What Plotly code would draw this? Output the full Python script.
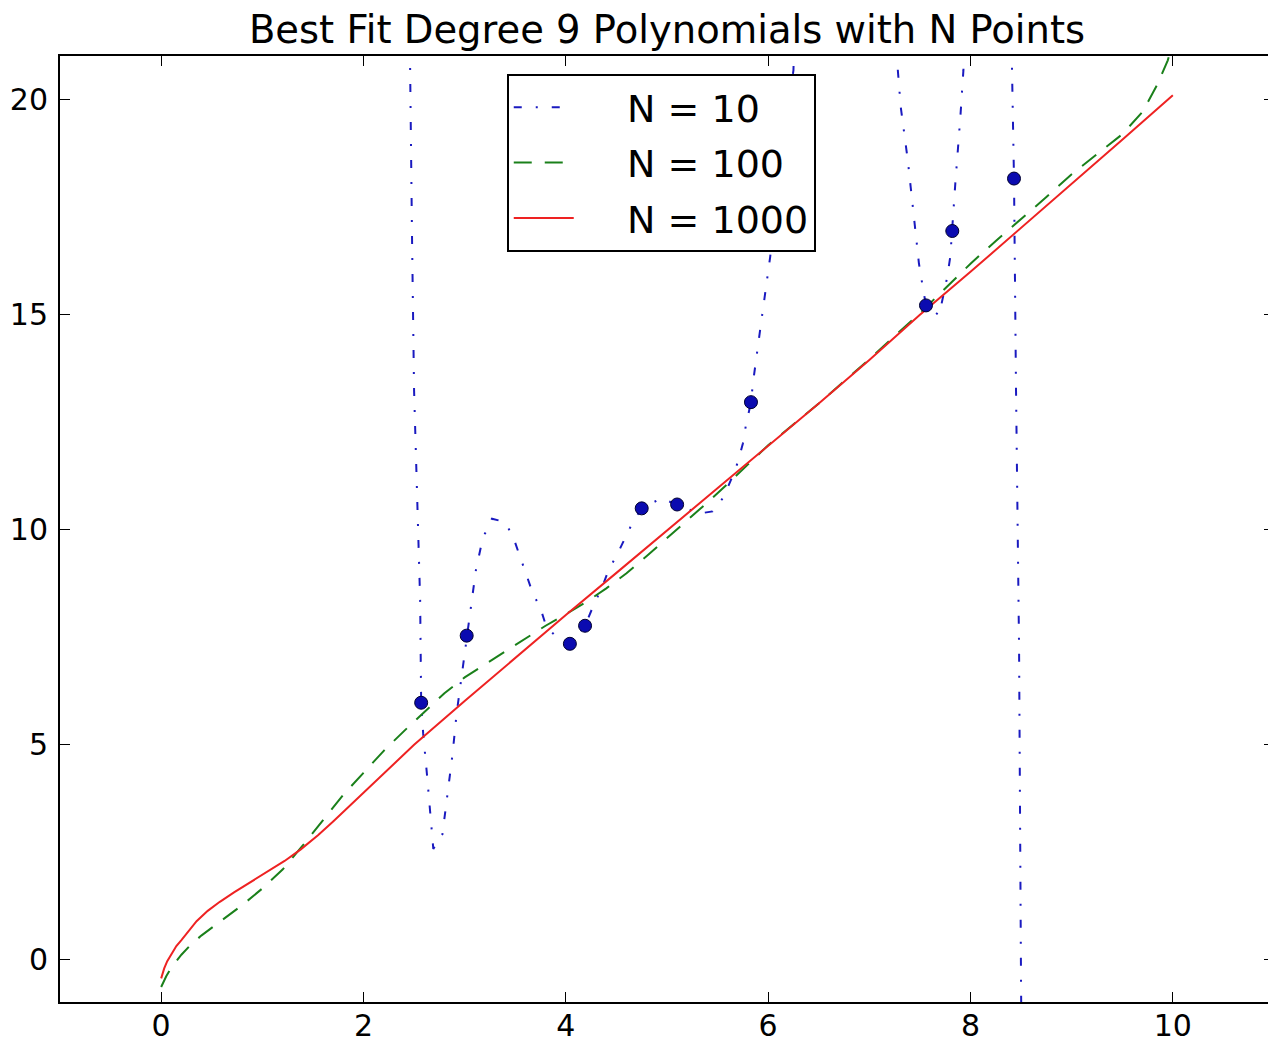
import plotly.graph_objects as go

# ---- data ----
sample_x = [2.57, 3.02, 4.04, 4.19, 4.75, 5.10, 5.83, 7.56, 7.82, 8.43]
sample_y = [5.96, 7.52, 7.33, 7.75, 10.48, 10.57, 12.95, 15.20, 16.93, 18.15]

n10_x = [2.45, 2.46, 2.48, 2.50, 2.53, 2.56, 2.57, 2.59, 2.63, 2.66, 2.69, 2.78, 2.83, 2.88,
         2.92, 2.97, 3.02, 3.06, 3.11, 3.16, 3.20, 3.27, 3.40, 3.48, 3.55, 3.67, 3.75, 3.81,
         3.95, 4.04, 4.19, 4.28, 4.36, 4.42, 4.51, 4.59, 4.67, 4.75, 4.94, 5.10, 5.32, 5.45,
         5.56, 5.63, 5.70, 5.75, 5.78, 5.83, 5.85, 5.92, 6.02, 6.12, 6.25, 6.27,
         7.26, 7.28, 7.31, 7.38, 7.44, 7.49, 7.53, 7.56, 7.69, 7.77, 7.80, 7.82, 7.85, 7.90,
         7.93, 7.95, 8.40, 8.41, 8.43, 8.45, 8.48, 8.50, 8.51]
n10_y = [23.0, 20.67, 16.72, 13.22, 10.66, 8.34, 5.96, 5.24, 4.22, 3.29, 2.56, 2.90, 3.83, 4.76,
         5.70, 6.55, 7.52, 8.18, 9.03, 9.58, 9.89, 10.24, 10.16, 9.81, 9.34, 8.53, 8.15, 7.71,
         7.40, 7.33, 7.75, 8.26, 8.65, 9.03, 9.42, 9.81, 10.20, 10.48, 10.71, 10.57, 10.36, 10.41,
         10.74, 11.13, 11.55, 11.99, 12.41, 12.95, 13.40, 14.62, 16.33, 18.50, 20.67, 23.0,
         23.0, 20.72, 19.82, 18.58, 17.26, 16.18, 15.60, 15.20, 14.97, 15.86, 16.33, 16.93, 18.04, 19.59,
         20.67, 23.0, 23.0, 20.72, 18.15, 13.22, 7.25, -0.75, -3.0]

n100_x = [0.0, 0.05, 0.1, 0.2, 0.3, 0.4, 0.6, 0.8, 1.0, 1.2, 1.4, 1.6, 1.8, 2.0, 2.2, 2.4, 2.6,
          2.8, 3.0, 3.2, 3.4, 3.6, 3.8, 4.0, 4.2, 4.4, 4.6, 4.8, 5.0, 5.2, 5.4, 5.6, 5.8, 6.0,
          6.5, 7.0, 7.5, 7.8, 8.0, 8.25, 8.5, 8.75, 9.0, 9.25, 9.5, 9.7, 9.85, 9.95, 10.0]
n100_y = [-0.65, -0.40, -0.20, 0.10, 0.35, 0.55, 0.90, 1.25, 1.64, 2.08, 2.64, 3.24, 3.82,
          4.33, 4.84, 5.30, 5.75, 6.18, 6.55, 6.85, 7.15, 7.45, 7.75, 8.02, 8.30, 8.62, 8.97,
          9.37, 9.78, 10.20, 10.62, 11.05, 11.50, 11.95, 12.92, 13.95, 15.02, 15.72, 16.17,
          16.70, 17.20, 17.72, 18.25, 18.72, 19.18, 19.70, 20.35, 20.90, 21.30]

n1000_x = [0.0, 0.03, 0.06, 0.10, 0.15, 0.20, 0.27, 0.35, 0.46, 0.58, 0.72, 0.88, 1.05, 1.22,
           1.38, 1.55, 1.70, 1.85, 2.0, 2.25, 2.5, 3.0, 3.5, 4.0, 4.5, 5.0, 5.5, 6.0, 6.5, 7.0,
           7.5, 8.0, 8.5, 9.0, 9.5, 10.0]
n1000_y = [-0.45, -0.22, -0.05, 0.12, 0.30, 0.44, 0.65, 0.88, 1.12, 1.33, 1.55, 1.78, 2.02,
           2.28, 2.55, 2.88, 3.20, 3.53, 3.86, 4.42, 4.98, 6.00, 7.01, 8.00, 8.98, 9.96, 10.94,
           11.93, 12.92, 13.93, 14.98, 15.98, 17.00, 18.02, 19.05, 20.09]

x_ticks = [0, 2, 4, 6, 8, 10]
y_ticks = [0, 5, 10, 15, 20]
series_names = ["N = 10", "N = 100", "N = 1000"]
title_text = "Best Fit Degree 9 Polynomials with N Points"

pad = "\u00a0\u00a0\u00a0\u00a0"  # gap between legend sample and label, as in the reference

fig = go.Figure()
fig.add_trace(go.Scatter(x=n10_x, y=n10_y, mode="lines", name=pad + series_names[0],
                         legendgroup="a",
                         line=dict(color="#1a1ac0", width=2, dash="8px,14px,2px,14px")))
fig.add_trace(go.Scatter(x=n100_x, y=n100_y, mode="lines", name=pad + series_names[1],
                         legendgroup="b",
                         line=dict(color="#1a801a", width=2, dash="18px,13px")))
fig.add_trace(go.Scatter(x=n1000_x, y=n1000_y, mode="lines", name=pad + series_names[2],
                         legendgroup="c",
                         line=dict(color="#ee2222", width=2)))
fig.add_trace(go.Scatter(x=sample_x, y=sample_y, mode="markers", showlegend=False,
                         marker=dict(size=13, color="#0b0bb0",
                                     line=dict(color="#000030", width=1))))

axis_common = dict(showgrid=False, zeroline=False, showline=True, linewidth=2,
                   linecolor="black", mirror="ticks", ticks="inside", ticklen=10,
                   tickwidth=1, tickcolor="black", automargin=False,
                   tickfont=dict(size=30, color="black"))

# the page adds an 8px body margin, so the figure is 8px smaller on each axis
fig.update_layout(
    width=1268, height=1035,
    margin=dict(l=52, r=2, t=48, b=41),
    paper_bgcolor="white", plot_bgcolor="white",
    font=dict(family="DejaVu Sans", color="black"),
    title=dict(text=title_text, x=0.5, xref="paper", xanchor="center",
               y=1 - 22 / 1035, yref="container", yanchor="middle", automargin=False,
               font=dict(size=38.5, color="black")),
    xaxis=dict(range=[-1, 11], tickvals=x_ticks, ticklabelstandoff=-4, **axis_common),
    yaxis=dict(range=[-1, 21], tickvals=y_ticks, ticklabelstandoff=4, **axis_common),
    legend=dict(x=0.368, y=0.981, xanchor="left", yanchor="top", bgcolor="white",
                bordercolor="black", borderwidth=2, font=dict(size=38),
                itemwidth=60, traceorder="grouped", tracegroupgap=3),
)

fig.write_html("out.html")
